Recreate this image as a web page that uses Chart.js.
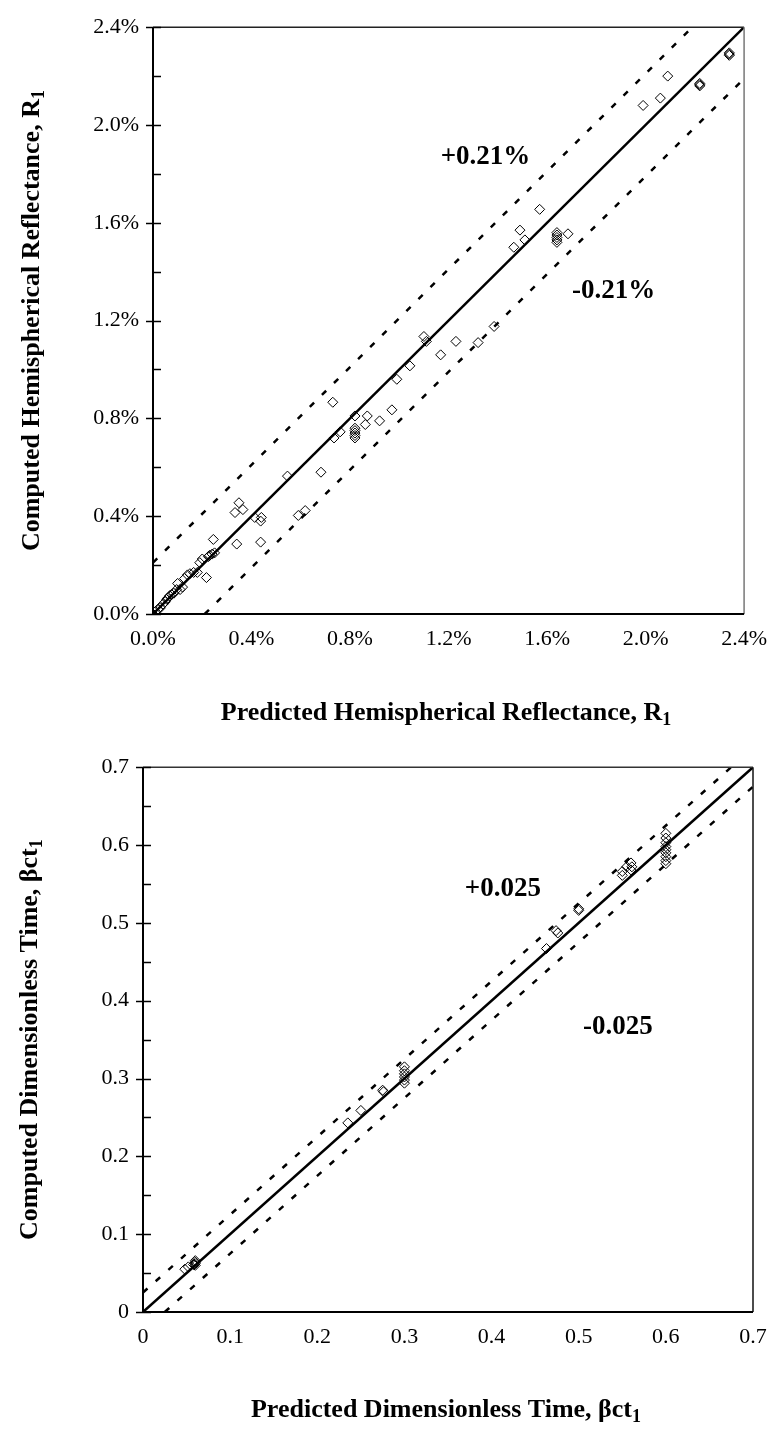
<!DOCTYPE html>
<html><head><meta charset="utf-8">
<script src="https://cdn.jsdelivr.net/npm/chart.js@4.4.1/dist/chart.umd.min.js"></script>
<style>
html,body{margin:0;padding:0;background:#fff;}
#w1{position:absolute;left:0;top:0;width:779px;height:740px;}
#w2{position:absolute;left:0;top:740px;width:779px;height:692px;}
</style></head><body>
<div id="w1"><canvas id="c1"></canvas></div>
<div id="w2"><canvas id="c2"></canvas></div>
<script>
// ---------- Data: hemispherical reflectance (in %) ----------
const predictedR1 = [
  0.00,0.01,0.02,0.03,0.04,0.05,0.056,0.06,0.068,0.075,
  0.085,0.096,0.11,0.12,0.10,0.128,0.14,0.15,0.165,0.18,
  0.19,0.20,0.217,0.225,0.23,0.24,0.25,0.245,
  0.333,0.349,0.365,0.34,0.413,0.44,0.437,0.437,0.546,0.59,
  0.618,0.682,0.73,0.735,0.76,
  0.82,0.82,0.82,0.82,0.82,0.82,
  0.862,0.87,0.92,0.97,0.99,1.043,1.10,1.11,1.168,1.23,
  1.32,1.385,1.465,1.49,1.51,1.57,
  1.64,1.64,1.64,1.64,1.64,
  1.685,1.99,2.06,2.09,
  2.22,2.22,2.22,
  2.34,2.34,2.34
];
const computedR1 = [
  0.00,0.01,0.02,0.025,0.04,0.05,0.06,0.065,0.075,0.08,
  0.085,0.10,0.10,0.11,0.125,0.145,0.16,0.165,0.17,0.17,
  0.21,0.225,0.149,0.235,0.24,0.245,0.25,0.305,
  0.415,0.455,0.427,0.286,0.395,0.395,0.38,0.294,0.564,0.403,
  0.423,0.58,0.866,0.72,0.745,
  0.81,0.76,0.75,0.74,0.73,0.72,
  0.775,0.81,0.79,0.835,0.96,1.015,1.135,1.115,1.06,1.115,
  1.11,1.176,1.50,1.57,1.53,1.655,
  1.56,1.55,1.54,1.53,1.52,
  1.555,2.08,2.11,2.20,
  2.17,2.165,2.16,
  2.295,2.29,2.285
];
const reflTickLabels = ['0.0%','0.4%','0.8%','1.2%','1.6%','2.0%','2.4%'];
const reflBand = 0.21;
const reflMax = 2.4;

// ---------- Data: dimensionless time ----------
const predictedTime = [
  0.048,0.052,0.058,0.06,0.06,0.06,0.06,
  0.235,0.25,0.275,0.276,
  0.30,0.30,0.30,0.30,0.30,0.30,
  0.463,0.474,0.476,
  0.50,0.50,
  0.55,0.55,0.555,0.56,0.561,0.56,
  0.60,0.60,0.60,0.60,0.60,0.60,0.60,0.60,0.60
];
const computedTime = [
  0.055,0.058,0.061,0.06,0.062,0.064,0.066,
  0.243,0.259,0.285,0.283,
  0.294,0.298,0.302,0.306,0.31,0.315,
  0.467,0.49,0.487,
  0.518,0.516,
  0.561,0.566,0.572,0.577,0.572,0.568,
  0.615,0.609,0.603,0.598,0.594,0.59,0.585,0.58,0.576
];
const timeTickLabels = ['0','0.1','0.2','0.3','0.4','0.5','0.6','0.7'];
const timeBand = 0.025;
const timeMax = 0.7;

const SERIF = '"Liberation Serif", "Times New Roman", serif';

function drawRich(ctx, parts, cx, cy, rotate, size){
  ctx.save();
  ctx.translate(cx, cy);
  if (rotate) ctx.rotate(-Math.PI/2);
  const mainF = 'bold ' + size + 'px ' + SERIF, subF = 'bold ' + Math.round(size*0.68) + 'px ' + SERIF;
  let total = 0;
  const ws = parts.map(p => { ctx.font = p.sub ? subF : mainF; const w = ctx.measureText(p.t).width; total += w; return w; });
  let x = -total/2;
  ctx.textBaseline = 'middle'; ctx.textAlign = 'left'; ctx.fillStyle = '#000';
  parts.forEach((p,i) => { ctx.font = p.sub ? subF : mainF; ctx.fillText(p.t, x, p.sub ? size*0.28 : 0); x += ws[i]; });
  ctx.restore();
}

const decor = {
  id: 'decor',
  afterDatasetsDraw(chart, args, o){
    const ctx = chart.ctx, a = chart.chartArea, xs = chart.scales.x, ys = chart.scales.y;
    ctx.save();
    ctx.lineWidth = 1.5;
    ctx.strokeStyle = o.topColor;
    ctx.beginPath(); ctx.moveTo(a.left, a.top); ctx.lineTo(a.right, a.top); ctx.stroke();
    ctx.strokeStyle = o.rightColor;
    ctx.beginPath(); ctx.moveTo(a.right, a.top); ctx.lineTo(a.right, a.bottom); ctx.stroke();
    ctx.strokeStyle = '#000'; ctx.lineWidth = 2;
    ctx.beginPath(); ctx.moveTo(a.left, a.top); ctx.lineTo(a.left, a.bottom); ctx.lineTo(a.right, a.bottom); ctx.stroke();
    ctx.lineWidth = 1.5;
    const n = Math.round(o.max / o.minor);
    for (let i = 0; i <= n; i++){
      const v = i * o.minor;
      const py = Math.round(ys.getPixelForValue(v)) + 0.5;
      const major = (i % o.ratio) === 0;
      ctx.beginPath();
      ctx.moveTo(major ? a.left - 7 : a.left, py);
      ctx.lineTo(a.left + 8, py);
      ctx.stroke();
    }
    ctx.fillStyle = '#000';
    ctx.font = 'bold 27px ' + SERIF;
    ctx.textAlign = 'center'; ctx.textBaseline = 'middle';
    o.notes.forEach(nt => ctx.fillText(nt.text, xs.getPixelForValue(nt.x), ys.getPixelForValue(nt.y)));
    drawRich(ctx, o.xTitle, o.xTitleX, o.xTitleY, false, o.titleSize);
    drawRich(ctx, o.yTitle, o.yTitleX, (a.top + a.bottom)/2, true, o.titleSize);
    ctx.restore();
  }
};

function makeChart(id, px, py, maxV, band, labels, step, pad, xH, yW, dec){
  const pts = px.map((v,i) => ({x: v, y: py[i]}));
  const tickFont = {family: SERIF, size: 22};
  return new Chart(document.getElementById(id), {
    type: 'scatter',
    data: {
      datasets: [
        {data: pts, pointStyle: 'rectRot', pointRadius: 5, pointHoverRadius: 5,
         borderColor: '#000', borderWidth: 1, backgroundColor: 'rgba(255,255,255,0)', order: 0},
        {type: 'line', data: [{x:0,y:0},{x:maxV,y:maxV}], borderColor: '#000', borderWidth: 2.5,
         pointRadius: 0, fill: false, order: 1},
        {type: 'line', data: [{x:0,y:band},{x:maxV-band,y:maxV}], borderColor: '#000', borderWidth: 2.5,
         borderDash: [6, 11], pointRadius: 0, fill: false, order: 2},
        {type: 'line', data: [{x:band,y:0},{x:maxV,y:maxV-band}], borderColor: '#000', borderWidth: 2.5,
         borderDash: [6, 11], pointRadius: 0, fill: false, order: 3}
      ]
    },
    options: {
      responsive: true, maintainAspectRatio: false, animation: false,
      layout: {padding: pad},
      plugins: {legend: {display: false}, tooltip: {enabled: false}, decor: dec},
      scales: {
        x: {type: 'linear', min: 0, max: maxV,
            ticks: {stepSize: step, color: '#000', font: tickFont, padding: 12, maxRotation: 0,
                    callback: (v, i) => labels[i]},
            grid: {display: false, drawTicks: false}, border: {display: false},
            afterFit: s => { s.height = xH; }},
        y: {type: 'linear', min: 0, max: maxV,
            ticks: {stepSize: step, color: '#000', font: tickFont, padding: 14,
                    callback: (v, i) => labels[i]},
            grid: {display: false, drawTicks: false}, border: {display: false},
            afterFit: s => { s.width = yW; }}
      }
    },
    plugins: [decor]
  });
}

makeChart('c1', predictedR1, computedR1, reflMax, reflBand, reflTickLabels, 0.4,
  {top: 18, right: 28, left: 0, bottom: 0}, 126, 153,
  {max: reflMax, minor: 0.2, ratio: 2, topColor: '#222', rightColor: '#777', titleSize: 26,
   notes: [{text: '+0.21%', x: 1.35, y: 1.87}, {text: '-0.21%', x: 1.87, y: 1.32}],
   xTitle: [{t: 'Predicted Hemispherical Reflectance, R'}, {t: '1', sub: true}], xTitleX: 446, xTitleY: 713,
   yTitle: [{t: 'Computed Hemispherical Reflectance, R'}, {t: '1', sub: true}], yTitleX: 32});

makeChart('c2', predictedTime, computedTime, timeMax, timeBand, timeTickLabels, 0.1,
  {top: 27, right: 26, left: 0, bottom: 0}, 120, 143,
  {max: timeMax, minor: 0.05, ratio: 2, topColor: '#333', rightColor: '#111', titleSize: 26,
   notes: [{text: '+0.025', x: 0.413, y: 0.543}, {text: '-0.025', x: 0.545, y: 0.366}],
   xTitle: [{t: 'Predicted Dimensionless Time, \u03B2ct'}, {t: '1', sub: true}], xTitleX: 446, xTitleY: 670,
   yTitle: [{t: 'Computed Dimensionless Time, \u03B2ct'}, {t: '1', sub: true}], yTitleX: 30});
</script>
</body></html>
